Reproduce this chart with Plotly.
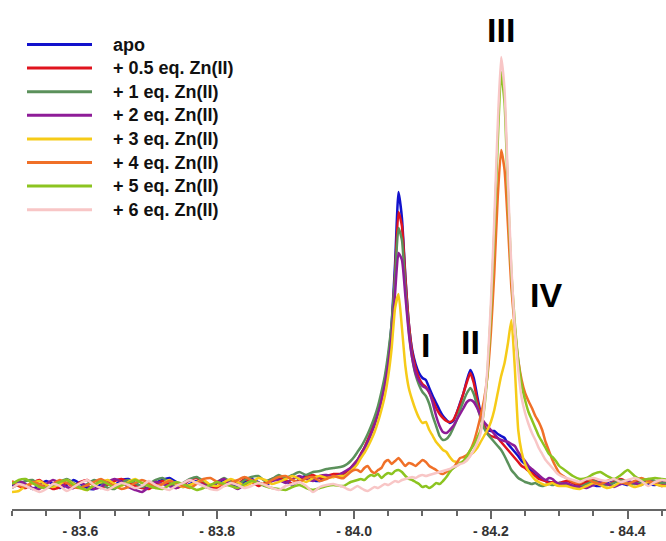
import plotly.graph_objects as go

# chemical shift grid (ppm)
ppm = [-83.50, -83.51, -83.52, -83.53, -83.54, -83.55, -83.56, -83.57, -83.58, -83.59,
       -83.60, -83.61, -83.62, -83.63, -83.64, -83.65, -83.66, -83.67, -83.68, -83.69,
       -83.70, -83.71, -83.72, -83.73, -83.74, -83.75, -83.76, -83.77, -83.78, -83.79,
       -83.80, -83.81, -83.82, -83.83, -83.84, -83.85, -83.86, -83.87, -83.88, -83.89,
       -83.90, -83.91, -83.92, -83.93, -83.94, -83.95, -83.96, -83.97, -83.98,
       -83.985, -83.990, -83.995, -84.000, -84.005, -84.010, -84.015, -84.020, -84.025, -84.030,
       -84.035, -84.040, -84.045, -84.050, -84.055, -84.060, -84.065, -84.070, -84.075, -84.080,
       -84.085, -84.090, -84.095, -84.100, -84.105, -84.110, -84.115, -84.120, -84.125, -84.130,
       -84.135, -84.140, -84.145, -84.150, -84.155, -84.160, -84.165, -84.170, -84.175, -84.180,
       -84.185, -84.190, -84.195, -84.200, -84.205, -84.210, -84.215, -84.220, -84.225, -84.230,
       -84.235, -84.240, -84.245, -84.250, -84.255, -84.260, -84.265, -84.270, -84.275, -84.280,
       -84.285, -84.290, -84.295, -84.300,
       -84.31, -84.32, -84.33, -84.34, -84.35, -84.36, -84.37, -84.38, -84.39, -84.40,
       -84.41, -84.42, -84.43, -84.44, -84.45, -84.46]

apo = [2, 6, 3, -1, 3, 7, 4, 0, 3, 8, 4, 0, -1, 4, 7, 3, 8, 9, 5, 1,
       0, 5, 8, 10, 6, 1, 4, 7, 2, 0, 5, 8, 5, 1, 6, 9, 6, 2, 7, 10,
       7, 3, 9, 12, 8, 7, 11, 13, 13,
       14, 16, 19, 22, 27, 34, 40, 47, 56, 66,
       76, 90, 108, 130, 165, 225, 296, 270, 212, 165,
       138, 124, 115, 110, 108, 100, 92, 85, 78, 72,
       68, 65, 67, 75, 85, 95, 108, 118, 110, 92,
       75, 62, 58, 57, 57, 54, 52, 50, 44, 40,
       36, 32, 27, 24, 20, 17, 13, 11, 9, 7,
       6, 5, 4, 5,
       4, 2, 6, 7, 3, 2, 6, 8, 5, 3, 6, 7, 4, 3, 7, 5]

eq05 = [6, 2, 0, 5, 8, 3, -1, 1, 5, 2, 6, 8, 3, 0, 3, 7, 9, 6, 2, 0,
        -1, 3, 7, 4, 0, 3, 8, 10, 5, 1, 0, 5, 8, 4, 9, 6, 2, 5, 9, 11,
        8, 4, 7, 11, 13, 10, 12, 14, 14,
        15, 17, 20, 24, 28, 34, 40, 48, 56, 65,
        76, 89, 106, 128, 160, 215, 276, 262, 210, 165,
        136, 120, 110, 104, 101, 95, 88, 80, 74, 70,
        67, 66, 68, 75, 84, 95, 106, 115, 105, 88,
        74, 63, 55, 52, 51, 50, 46, 42, 38, 34,
        30, 26, 22, 20, 17, 15, 12, 9, 8, 7,
        5, 6, 4, 5,
        7, 5, 3, 6, 8, 5, 3, 6, 9, 6, 4, 8, 6, 4, 3, 6]

eq1 = [0, 4, 7, 8, 3, 0, 2, 6, 9, 5, 1, 4, 8, 5, 0, -1, 5, 8, 5, 1,
       4, 8, 10, 6, 2, 5, 9, 11, 7, 3, 6, 10, 6, 3, 8, 11, 12, 7, 9, 13,
       10, 13, 16, 13, 16, 17, 19, 20, 21,
       22, 24, 27, 31, 36, 41, 47, 54, 62, 71,
       82, 96, 112, 135, 165, 212, 260, 248, 200, 158,
       130, 113, 103, 96, 92, 84, 72, 62, 52, 48,
       49, 53, 60, 68, 78, 87, 95, 100, 94, 82,
       70, 60, 54, 50, 46, 42, 38, 32, 25, 18,
       14, 10, 8, 6, 5, 4, 5, 3, 2, 3,
       4, 3, 4, 5,
       4, 2, 1, 4, 7, 5, 3, 5, 8, 6, 4, 6, 9, 7, 5, 5]

eq2 = [3, 7, 4, 0, -1, 4, 8, 5, 1, 0, 5, 2, -1, 1, 6, 9, 6, 1, -2, -4,
       1, 6, 4, 2, 0, 4, 8, 5, 3, 1, 6, 9, 3, -1, 3, 8, 5, 3, 7, 8,
       5, 9, 12, 9, 7, 12, 13, 11, 14,
       16, 18, 20, 24, 28, 33, 39, 46, 54, 63,
       74, 87, 103, 124, 152, 195, 235, 228, 192, 155,
       130, 115, 107, 102, 100, 96, 85, 72, 62, 56,
       55, 58, 62, 68, 74, 80, 86, 88, 86, 80,
       72, 66, 62, 58, 54, 50, 48, 47, 46, 44,
       42, 36, 31, 27, 22, 19, 16, 13, 10, 8,
       10, 9, 6, 4,
       5, 2, 1, 0, 3, 6, 4, 1, 4, 7, 5, 3, 7, 5, 2, 4]

eq3 = [-4, -3, 2, 5, 7, 3, 1, 4, 8, 4, 0, -2, 3, 6, 8, 4, 2, 6, 9, 5,
       2, 0, 4, 8, 4, 1, 3, 6, 8, 3, 2, 6, 9, 6, 2, 5, 10, 8, 4, 6,
       9, 12, 9, 6, 10, 12, 10, 11, 12,
       12, 14, 17, 20, 24, 30, 35, 41, 48, 56,
       66, 78, 92, 112, 140, 180, 194, 160, 122, 100,
       88, 78, 70, 65, 66, 58, 52, 46, 42, 38,
       36, 31, 27, 26, 25, 26, 28, 33, 36, 40,
       46, 52, 58, 66, 78, 95, 112, 125, 145, 168,
       120, 58, 36, 24, 17, 12, 8, 6, 4, 3,
       4, 5, 3, 2,
       2, 0, -1, 2, 5, 3, 0, 2, 6, 4, 1, 3, 6, 4, 2, 2]

eq4 = [7, 3, 1, 6, 4, 0, 4, 8, 5, 1, 0, 3, 6, 9, 5, 2, -1, 1, 5, 8,
       5, 2, 4, 7, 5, 2, 0, 4, 9, 10, 6, 2, 5, 8, 11, 8, 5, 4, 8, 11,
       12, 8, 6, 10, 11, 7, 9, 12, 10,
       10, 13, 16, 18, 18, 16, 20, 22, 17, 15,
       18, 20, 26, 28, 24, 27, 30, 26, 22, 25,
       24, 22, 25, 28, 26, 22, 20, 18, 15, 14,
       16, 18, 20, 25, 30, 31, 33, 38, 46, 58,
       72, 88, 112, 155, 215, 290, 338, 318, 262, 200,
       160, 128, 108, 95, 87, 80, 72, 66, 58, 46,
       37, 28, 21, 15,
       10, 6, 5, 9, 6, 4, 7, 9, 6, 4, 7, 10, 7, 5, 8, 7]

eq5 = [4, 8, 9, 5, 1, 0, 3, 6, 8, 3, 0, -2, 3, 7, 4, 0, 3, 5, 8, 5,
       2, 0, -1, 3, 6, 4, 1, -2, 0, 3, 6, 4, 2, 0, 4, 7, 5, 2, 0, -1,
       -2, 1, 3, 0, -2, 0, 2, 3, 2,
       2, 4, 6, 7, 8, 9, 8, 11, 13, 12,
       14, 10, 13, 15, 14, 17, 18, 16, 12, 9,
       8, 6, 4, 1, 2, 0, 2, 5, 4, 7,
       11, 16, 20, 22, 25, 27, 32, 38, 43, 50,
       58, 78, 115, 175, 255, 345, 416, 385, 295, 215,
       165, 128, 103, 88, 76, 68, 60, 52, 46, 40,
       34, 31, 27, 22,
       17, 12, 9, 10, 14, 16, 12, 9, 13, 18, 12, 8, 9, 10, 9, 8]

eq6 = [0, 4, 2, -1, -4, -1, 4, 2, -3, 1, 5, 8, 3, 0, -2, 2, 5, 3, 0, 2,
       7, 3, 0, -2, 2, 5, 8, 5, 2, -1, -2, 2, 5, 3, 0, 2, 5, 3, 0, -2,
       2, 4, 6, 2, -4, 1, 3, 4, 2,
       1, -1, -2, 0, 2, 0, -2, -3, -1, 1,
       0, 2, 4, 3, 5, 7, 6, 8, 9, 10,
       11, 10, 12, 13, 12, 13, 14, 15, 16, 17,
       18, 19, 21, 22, 24, 25, 28, 32, 38, 45,
       55, 80, 120, 185, 268, 362, 431, 398, 305, 220,
       160, 118, 90, 75, 64, 55, 48, 40, 34, 28,
       24, 20, 16, 13,
       10, 8, 6, 9, 10, 8, 7, 9, 6, 8, 10, 7, 2, 6, 8, 7]

series_names = ["apo", "+ 0.5 eq. Zn(II)", "+ 1 eq. Zn(II)", "+ 2 eq. Zn(II)",
                "+ 3 eq. Zn(II)", "+ 4 eq. Zn(II)", "+ 5 eq. Zn(II)", "+ 6 eq. Zn(II)"]
series_values = [apo, eq05, eq1, eq2, eq3, eq4, eq5, eq6]
colors = ["#1212cc", "#e0141e", "#5b915b", "#8e1c98", "#f6cb18", "#f07028", "#8cc420", "#f8c6c6"]

tick_vals = [-83.6, -83.8, -84.0, -84.2, -84.4]
tick_text = ["- 83.6", "- 83.8", "- 84.0", "- 84.2", "- 84.4"]

peak_labels = ["I", "II", "III", "IV"]
peak_ppm = [-84.1045, -84.1695, -84.2150, -84.2805]
peak_y = [143, 146, 458, 193]

FONT = "Liberation Sans, Arial, sans-serif"

fig = go.Figure()
for name, vals, col in zip(series_names, series_values, colors):
    fig.add_trace(go.Scatter(x=ppm, y=vals, mode="lines", name=name,
                             line=dict(color=col, width=2.5, shape="spline", smoothing=0.5),
                             showlegend=False, hoverinfo="skip"))

# legend drawn manually (long line samples like the original)
H = 509.0
for i, (name, col) in enumerate(zip(series_names, colors)):
    py = 44.5 + 23.6 * i
    yp = (H - py) / H
    fig.add_shape(type="line", xref="paper", yref="paper",
                  x0=(27 - 12) / 654, x1=(92 - 12) / 654, y0=yp, y1=yp,
                  line=dict(color=col, width=3))
    fig.add_annotation(xref="paper", yref="paper", x=(111 - 12) / 654, y=yp,
                       text=name, showarrow=False, xanchor="left", yanchor="middle",
                       font=dict(family=FONT, size=18, color="#111", weight="bold"))

for lab, px, py in zip(peak_labels, peak_ppm, peak_y):
    fig.add_annotation(x=px, y=py, text=lab, showarrow=False,
                       xanchor="center", yanchor="middle",
                       font=dict(family=FONT, size=34, color="#000", weight="bold"))

fig.update_layout(
    width=666, height=541,
    margin=dict(l=12, r=0, t=0, b=32),
    paper_bgcolor="white", plot_bgcolor="white",
    xaxis=dict(range=[-83.5, -84.456], showgrid=False, zeroline=False,
               showline=True, linecolor="#666", linewidth=2,
               ticks="outside", ticklen=8, tickwidth=2, tickcolor="#666",
               tickmode="array", tickvals=tick_vals, ticktext=tick_text,
               tickfont=dict(family=FONT, size=14, color="#333", weight="bold"),
               minor=dict(ticks="outside", ticklen=5, tickwidth=2, tickcolor="#666",
                          tick0=-83.5, dtick=0.05)),
    yaxis=dict(range=[-21, 488], visible=False, showgrid=False, zeroline=False),
)

fig.write_html("out.html")
